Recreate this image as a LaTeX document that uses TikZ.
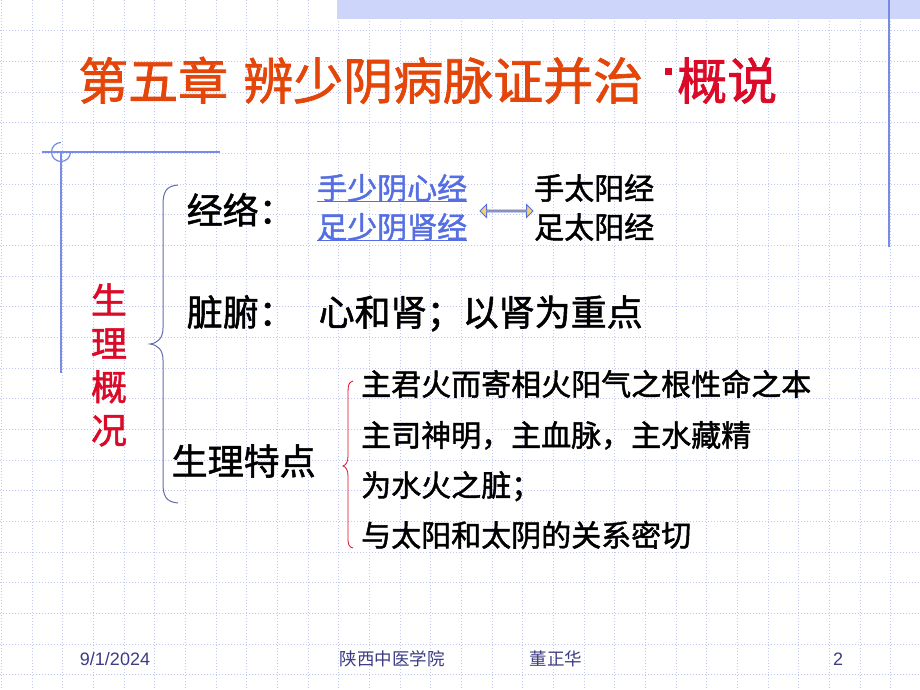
\documentclass[tikz,border=0pt]{standalone}
\usepackage{fontspec}
\setmainfont{Liberation Sans}
\newfontfamily\cjk{Noto Sans CJK SC}
\newfontfamily\cjkheavy[FakeBold=1.5]{Noto Sans CJK SC}
\usetikzlibrary{shapes.arrows}
\definecolor{gridblue}{RGB}{192,200,242}
\definecolor{bandblue}{RGB}{205,213,250}
\definecolor{frameblue}{RGB}{120,140,230}
\definecolor{titleorange}{RGB}{228,70,10}
\definecolor{titlered}{RGB}{218,10,40}
\definecolor{linkblue}{RGB}{85,110,225}
\definecolor{bracegray}{RGB}{100,110,170}
\definecolor{footblue}{RGB}{60,60,130}
\definecolor{arrowfill}{RGB}{240,210,110}
% underline made of a rule
\newcommand{\lineunder}[1]{\setbox0\hbox{#1}\rlap{\rule[-3pt]{\wd0}{1.2pt}}\box0}

\begin{document}
\begin{tikzpicture}[x=1pt,y=-1pt,
  every node/.style={inner sep=0pt},
  gridline/.style={gridblue,line width=0.8pt,dash pattern=on 1pt off 2pt},
  maintext/.style={anchor=base west,font=\cjkheavy\fontsize{36}{40}\selectfont},
  subtext/.style={anchor=base west,font=\cjkheavy\fontsize{30}{34}\selectfont},
  redchar/.style={anchor=base,text=titlered,font=\cjkheavy\fontsize{36}{40}\selectfont},
  foot/.style={anchor=base,text=footblue,font=\fontsize{18}{20}\selectfont}]
\useasboundingbox (0,0) rectangle (920,690);
\fill[white] (0,0) rectangle (920,690);

% background grid
\foreach \k in {0,...,29}
  \draw[gridline] (\k*30.667+1.5,0) -- (\k*30.667+1.5,690);
\foreach \k in {1,...,22}
  \draw[gridline] (0,\k*30.667) -- (920,\k*30.667);

% frame
\fill[bandblue] (337,0) rectangle (920,19);
\draw[frameblue,line width=1.5pt] (889,0) -- (889,247);
\draw[frameblue,line width=1.5pt] (42,152) -- (220,152);
\draw[frameblue,line width=1.5pt] (61,152) -- (61,373);
\draw[frameblue,line width=1.2pt] (70.5,152) arc[start angle=0,end angle=270,radius=9.5];

% title
\node[anchor=base west,font=\cjkheavy\fontsize{50}{56}\selectfont] (title) at (78,99.5)
  {\color{titleorange}第五章\hspace{15pt}辨少阴病脉证并治\color{titlered}\hspace{22pt}\rule[24.5pt]{7pt}{7pt}\hspace{5pt}概说};

% left side
\foreach \ch [count=\k] in {生,理,概,况}
  \node[redchar] (gl\k) at (109,313.7+43.3*\k-43.3) {\ch};
\draw[bracegray,line width=1pt] (178,185) .. controls (166,186) and (163,192) .. (163,205)
  -- (163,328) .. controls (163,338) and (158,343) .. (150,344)
  .. controls (158,345) and (163,350) .. (163,360)
  -- (163,483) .. controls (163,496) and (166,502) .. (178,503);

% meridians
\node[maintext] (jingluo) at (186.5,223.7) {经络：};
\node[subtext,text=linkblue] (shouyin) at (317,199.4) {\lineunder{手少阴心经}};
\node[subtext,text=linkblue] (zuyin) at (317,238.4) {\lineunder{足少阴肾经}};
\node[subtext] (shouyang) at (534,199.4) {手太阳经};
\node[subtext] (zuyang) at (534,238.4) {足太阳经};
\node[double arrow,draw=linkblue,fill=arrowfill,line width=1pt,
  minimum height=53pt,minimum width=13pt,double arrow head extend=3pt] (link) at (506.5,211) {};

% organs
\node[maintext] (zangfu) at (186.5,325.7) {脏腑：};
\node[maintext] (xinshen) at (318.5,325.7) {心和肾；以肾为重点};

% features
\node[maintext] (tedian) at (171.5,474.7) {生理特点};
\draw[titlered,line width=0.8pt] (353,381) .. controls (349,382) and (348,385) .. (348,392)
  -- (348,456) .. controls (348,462) and (346,465) .. (343,466)
  .. controls (346,467) and (348,470) .. (348,476)
  -- (348,538) .. controls (348,545) and (349,547) .. (353,548);
\node[subtext] (line1) at (361,395.4) {主君火而寄相火阳气之根性命之本};
\node[subtext] (line2) at (361,446.4) {主司神明，主血脉，主水藏精};
\node[subtext] (line3) at (361,496.4) {为水火之脏；};
\node[subtext] (line4) at (361,546.4) {与太阳和太阴的关系密切};

% footer
\node[foot] (date) at (115,665) {9/1/2024};
\node[foot,font=\cjk\fontsize{17.5}{20}\selectfont] (school) at (392,665) {陕西中医学院};
\node[foot,font=\cjk\fontsize{17.5}{20}\selectfont] (author) at (556,665) {董正华};
\node[foot] (page) at (838,665) {2};
\end{tikzpicture}
\end{document}
